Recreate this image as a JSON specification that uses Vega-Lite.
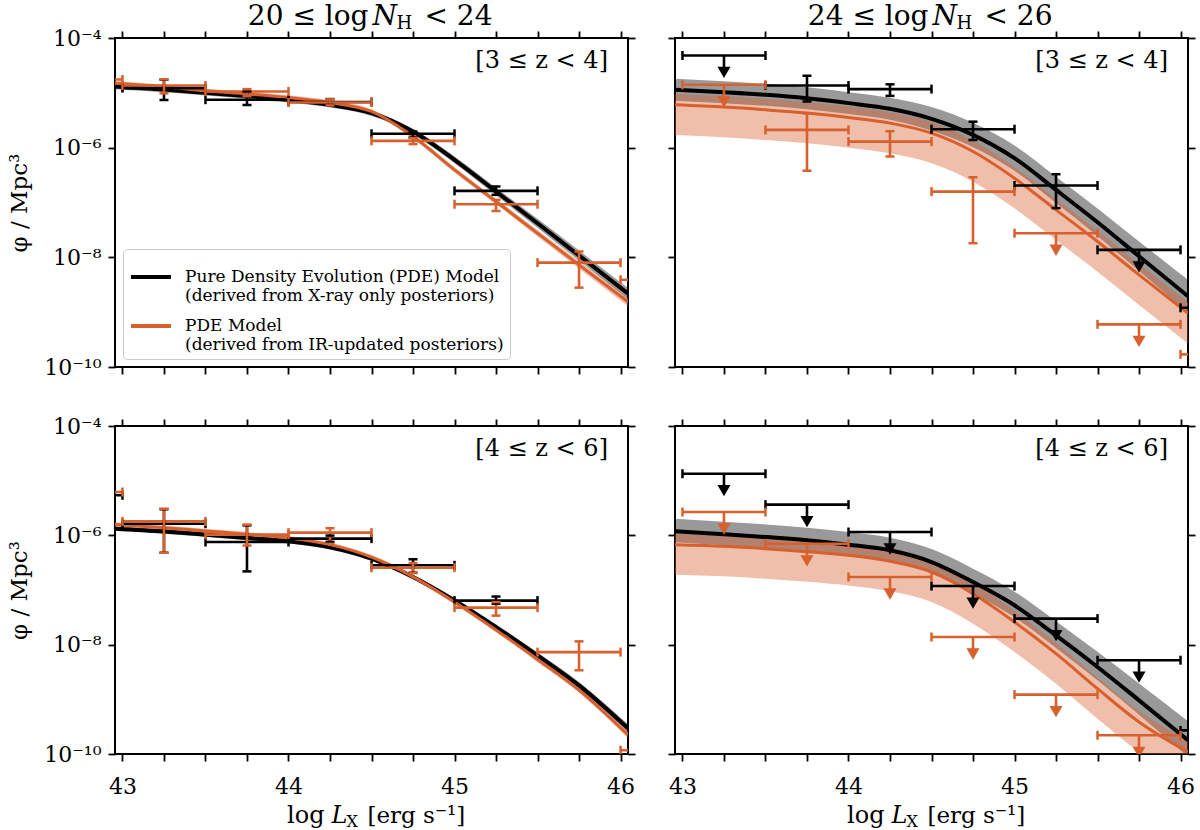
{
  "$schema": "https://vega.github.io/schema/vega-lite/v6.json",
  "background": "white",
  "padding": {"left": 7, "top": 2, "right": 5, "bottom": 0},
  "config": {
    "font": "DejaVu Serif",
    "view": {"stroke": "black", "strokeWidth": 2},
    "axis": {
      "labelFont": "DejaVu Serif", "labelFontSize": 22, "labelColor": "black",
      "tickColor": "black", "tickWidth": 1.8, "tickSize": 7,
      "domain": false, "grid": false,
      "titleFont": "DejaVu Serif", "titleFontSize": 23, "titleFontWeight": "normal", "titleColor": "black",
      "labelFlush": false, "labelOverlap": false
    },
    "text": {"font": "DejaVu Serif", "color": "black"}
  },
  "datasets": {
    "curves": [
      {"p":"TL","s":"X","x":42.955,"y":1.303e-5,"lo":1.161e-5,"hi":1.462e-5},
      {"p":"TL","s":"X","x":43.25,"y":1.148e-5,"lo":1.023e-5,"hi":1.288e-5},
      {"p":"TL","s":"X","x":43.5,"y":1.0e-5,"lo":8.91e-6,"hi":1.122e-5},
      {"p":"TL","s":"X","x":43.75,"y":8.71e-6,"lo":7.76e-6,"hi":9.77e-6},
      {"p":"TL","s":"X","x":44.0,"y":7.46e-6,"lo":6.65e-6,"hi":8.37e-6},
      {"p":"TL","s":"X","x":44.25,"y":6.04e-6,"lo":5.38e-6,"hi":6.78e-6},
      {"p":"TL","s":"X","x":44.5,"y":4.26e-6,"lo":3.79e-6,"hi":4.78e-6},
      {"p":"TL","s":"X","x":44.75,"y":1.97e-6,"lo":1.76e-6,"hi":2.21e-6},
      {"p":"TL","s":"X","x":45.0,"y":6.0e-7,"lo":5.22e-7,"hi":6.89e-7},
      {"p":"TL","s":"X","x":45.25,"y":1.585e-7,"lo":1.349e-7,"hi":1.862e-7},
      {"p":"TL","s":"X","x":45.5,"y":4.19e-8,"lo":3.48e-8,"hi":5.04e-8},
      {"p":"TL","s":"X","x":45.75,"y":1.079e-8,"lo":8.77e-9,"hi":1.327e-8},
      {"p":"TL","s":"X","x":46.045,"y":2.19e-9,"lo":1.74e-9,"hi":2.75e-9},
      {"p":"TL","s":"IR","x":42.955,"y":1.5e-5,"lo":1.368e-5,"hi":1.644e-5},
      {"p":"TL","s":"IR","x":43.25,"y":1.288e-5,"lo":1.175e-5,"hi":1.413e-5},
      {"p":"TL","s":"IR","x":43.5,"y":1.086e-5,"lo":9.91e-6,"hi":1.191e-5},
      {"p":"TL","s":"IR","x":43.75,"y":9.55e-6,"lo":8.71e-6,"hi":1.047e-5},
      {"p":"TL","s":"IR","x":44.0,"y":8.22e-6,"lo":7.5e-6,"hi":9.02e-6},
      {"p":"TL","s":"IR","x":44.25,"y":6.67e-6,"lo":6.08e-6,"hi":7.31e-6},
      {"p":"TL","s":"IR","x":44.5,"y":4.57e-6,"lo":4.17e-6,"hi":5.01e-6},
      {"p":"TL","s":"IR","x":44.75,"y":1.6e-6,"lo":1.459e-6,"hi":1.754e-6},
      {"p":"TL","s":"IR","x":45.0,"y":3.94e-7,"lo":3.52e-7,"hi":4.43e-7},
      {"p":"TL","s":"IR","x":45.25,"y":1.042e-7,"lo":9.29e-8,"hi":1.169e-7},
      {"p":"TL","s":"IR","x":45.5,"y":2.754e-8,"lo":2.4e-8,"hi":3.16e-8},
      {"p":"TL","s":"IR","x":45.75,"y":7.29e-9,"lo":6.21e-9,"hi":8.57e-9},
      {"p":"TL","s":"IR","x":46.045,"y":1.549e-9,"lo":1.288e-9,"hi":1.862e-9},
      {"p":"TR","s":"X","x":42.955,"y":1.135e-5,"lo":7.16e-6,"hi":1.8e-5},
      {"p":"TR","s":"X","x":43.25,"y":1.023e-5,"lo":6.46e-6,"hi":1.622e-5},
      {"p":"TR","s":"X","x":43.5,"y":9.2e-6,"lo":5.81e-6,"hi":1.459e-5},
      {"p":"TR","s":"X","x":43.75,"y":7.94e-6,"lo":5.01e-6,"hi":1.259e-5},
      {"p":"TR","s":"X","x":44.0,"y":6.49e-6,"lo":4.09e-6,"hi":1.028e-5},
      {"p":"TR","s":"X","x":44.25,"y":5.12e-6,"lo":3.23e-6,"hi":8.11e-6},
      {"p":"TR","s":"X","x":44.5,"y":3.36e-6,"lo":2.04e-6,"hi":5.5e-6},
      {"p":"TR","s":"X","x":44.75,"y":1.714e-6,"lo":1.033e-6,"hi":2.84e-6},
      {"p":"TR","s":"X","x":45.0,"y":6.43e-7,"lo":3.78e-7,"hi":1.091e-6},
      {"p":"TR","s":"X","x":45.25,"y":1.698e-7,"lo":9.77e-8,"hi":2.95e-7},
      {"p":"TR","s":"X","x":45.5,"y":4.365e-8,"lo":2.455e-8,"hi":7.76e-8},
      {"p":"TR","s":"X","x":45.75,"y":1.047e-8,"lo":5.62e-9,"hi":1.95e-8},
      {"p":"TR","s":"X","x":46.045,"y":1.95e-9,"lo":9.77e-10,"hi":3.89e-9},
      {"p":"TR","s":"IR","x":42.955,"y":6.04e-6,"lo":1.702e-6,"hi":9.57e-6},
      {"p":"TR","s":"IR","x":43.25,"y":5.5e-6,"lo":1.549e-6,"hi":8.71e-6},
      {"p":"TR","s":"IR","x":43.5,"y":4.9e-6,"lo":1.38e-6,"hi":7.76e-6},
      {"p":"TR","s":"IR","x":43.75,"y":4.27e-6,"lo":1.202e-6,"hi":6.76e-6},
      {"p":"TR","s":"IR","x":44.0,"y":3.55e-6,"lo":1.0e-6,"hi":5.62e-6},
      {"p":"TR","s":"IR","x":44.25,"y":2.8e-6,"lo":7.89e-7,"hi":4.44e-6},
      {"p":"TR","s":"IR","x":44.5,"y":1.837e-6,"lo":5.18e-7,"hi":2.91e-6},
      {"p":"TR","s":"IR","x":44.75,"y":8.51e-7,"lo":2.4e-7,"hi":1.349e-6},
      {"p":"TR","s":"IR","x":45.0,"y":2.77e-7,"lo":7.82e-8,"hi":4.4e-7},
      {"p":"TR","s":"IR","x":45.25,"y":7.35e-8,"lo":2.07e-8,"hi":1.164e-7},
      {"p":"TR","s":"IR","x":45.5,"y":1.945e-8,"lo":5.48e-9,"hi":3.08e-8},
      {"p":"TR","s":"IR","x":45.75,"y":4.8e-9,"lo":1.352e-9,"hi":7.6e-9},
      {"p":"TR","s":"IR","x":46.045,"y":9.55e-10,"lo":2.69e-10,"hi":1.514e-9},
      {"p":"BL","s":"X","x":42.955,"y":1.324e-6,"lo":1.208e-6,"hi":1.452e-6},
      {"p":"BL","s":"X","x":43.25,"y":1.175e-6,"lo":1.072e-6,"hi":1.288e-6},
      {"p":"BL","s":"X","x":43.5,"y":1.028e-6,"lo":9.38e-7,"hi":1.127e-6},
      {"p":"BL","s":"X","x":43.75,"y":8.91e-7,"lo":8.13e-7,"hi":9.77e-7},
      {"p":"BL","s":"X","x":44.0,"y":7.76e-7,"lo":7.08e-7,"hi":8.51e-7},
      {"p":"BL","s":"X","x":44.25,"y":6.03e-7,"lo":5.5e-7,"hi":6.61e-7},
      {"p":"BL","s":"X","x":44.5,"y":3.74e-7,"lo":3.41e-7,"hi":4.1e-7},
      {"p":"BL","s":"X","x":44.75,"y":1.73e-7,"lo":1.578e-7,"hi":1.897e-7},
      {"p":"BL","s":"X","x":45.0,"y":6.46e-8,"lo":5.89e-8,"hi":7.08e-8},
      {"p":"BL","s":"X","x":45.25,"y":2.1e-8,"lo":1.875e-8,"hi":2.36e-8},
      {"p":"BL","s":"X","x":45.5,"y":6.38e-9,"lo":5.69e-9,"hi":7.16e-9},
      {"p":"BL","s":"X","x":45.75,"y":1.803e-9,"lo":1.57e-9,"hi":2.07e-9},
      {"p":"BL","s":"X","x":46.045,"y":2.95e-10,"lo":2.51e-10,"hi":3.47e-10},
      {"p":"BL","s":"IR","x":42.955,"y":1.585e-6,"lo":1.445e-6,"hi":1.738e-6},
      {"p":"BL","s":"IR","x":43.25,"y":1.38e-6,"lo":1.259e-6,"hi":1.514e-6},
      {"p":"BL","s":"IR","x":43.5,"y":1.202e-6,"lo":1.096e-6,"hi":1.318e-6},
      {"p":"BL","s":"IR","x":43.75,"y":1.047e-6,"lo":9.55e-7,"hi":1.148e-6},
      {"p":"BL","s":"IR","x":44.0,"y":8.91e-7,"lo":8.13e-7,"hi":9.77e-7},
      {"p":"BL","s":"IR","x":44.25,"y":6.76e-7,"lo":6.17e-7,"hi":7.41e-7},
      {"p":"BL","s":"IR","x":44.5,"y":3.98e-7,"lo":3.63e-7,"hi":4.37e-7},
      {"p":"BL","s":"IR","x":44.75,"y":1.738e-7,"lo":1.585e-7,"hi":1.905e-7},
      {"p":"BL","s":"IR","x":45.0,"y":6.03e-8,"lo":5.5e-8,"hi":6.61e-8},
      {"p":"BL","s":"IR","x":45.25,"y":1.862e-8,"lo":1.698e-8,"hi":2.04e-8},
      {"p":"BL","s":"IR","x":45.5,"y":5.37e-9,"lo":4.79e-9,"hi":6.03e-9},
      {"p":"BL","s":"IR","x":45.75,"y":1.479e-9,"lo":1.318e-9,"hi":1.66e-9},
      {"p":"BL","s":"IR","x":46.045,"y":2.24e-10,"lo":1.95e-10,"hi":2.57e-10},
      {"p":"BR","s":"X","x":42.955,"y":1.183e-6,"lo":7.46e-7,"hi":2.01e-6},
      {"p":"BR","s":"X","x":43.25,"y":1.047e-6,"lo":6.61e-7,"hi":1.778e-6},
      {"p":"BR","s":"X","x":43.5,"y":9.33e-7,"lo":5.89e-7,"hi":1.585e-6},
      {"p":"BR","s":"X","x":43.75,"y":8.13e-7,"lo":5.13e-7,"hi":1.38e-6},
      {"p":"BR","s":"X","x":44.0,"y":6.75e-7,"lo":4.26e-7,"hi":1.146e-6},
      {"p":"BR","s":"X","x":44.25,"y":5.32e-7,"lo":3.36e-7,"hi":9.04e-7},
      {"p":"BR","s":"X","x":44.5,"y":3.25e-7,"lo":2.0e-7,"hi":5.62e-7},
      {"p":"BR","s":"X","x":44.75,"y":1.4e-7,"lo":8.51e-8,"hi":2.455e-7},
      {"p":"BR","s":"X","x":45.0,"y":5.25e-8,"lo":3.16e-8,"hi":9.33e-8},
      {"p":"BR","s":"X","x":45.25,"y":1.483e-8,"lo":8.71e-9,"hi":2.69e-8},
      {"p":"BR","s":"X","x":45.5,"y":3.91e-9,"lo":2.24e-9,"hi":7.41e-9},
      {"p":"BR","s":"X","x":45.75,"y":9.59e-10,"lo":5.25e-10,"hi":1.95e-9},
      {"p":"BR","s":"X","x":46.045,"y":1.782e-10,"lo":8.9e-11,"hi":3.98e-10},
      {"p":"BR","s":"IR","x":42.955,"y":6.75e-7,"lo":1.901e-7,"hi":1.069e-6},
      {"p":"BR","s":"IR","x":43.25,"y":6.31e-7,"lo":1.778e-7,"hi":1.0e-6},
      {"p":"BR","s":"IR","x":43.5,"y":5.7e-7,"lo":1.607e-7,"hi":9.04e-7},
      {"p":"BR","s":"IR","x":43.75,"y":5.01e-7,"lo":1.413e-7,"hi":7.94e-7},
      {"p":"BR","s":"IR","x":44.0,"y":4.31e-7,"lo":1.213e-7,"hi":6.82e-7},
      {"p":"BR","s":"IR","x":44.25,"y":3.35e-7,"lo":9.44e-8,"hi":5.31e-7},
      {"p":"BR","s":"IR","x":44.5,"y":2.14e-7,"lo":6.03e-8,"hi":3.39e-7},
      {"p":"BR","s":"IR","x":44.75,"y":8.57e-8,"lo":2.415e-8,"hi":1.358e-7},
      {"p":"BR","s":"IR","x":45.0,"y":2.6e-8,"lo":7.33e-9,"hi":4.12e-8},
      {"p":"BR","s":"IR","x":45.25,"y":6.84e-9,"lo":1.928e-9,"hi":1.084e-8},
      {"p":"BR","s":"IR","x":45.5,"y":1.567e-9,"lo":4.42e-10,"hi":2.48e-9},
      {"p":"BR","s":"IR","x":45.75,"y":3.85e-10,"lo":1.086e-10,"hi":6.11e-10},
      {"p":"BR","s":"IR","x":46.045,"y":1.089e-10,"lo":3.09e-11,"hi":1.726e-10}
    ],
    "pts": [
      {"p":"TL","s":"X","x":42.75,"xlo":42.5,"xhi":43.0,"y":1.3e-5,"ylo":null,"yhi":null,"ul":false},
      {"p":"TL","s":"X","x":43.25,"xlo":43.0,"xhi":43.5,"y":1.22e-5,"ylo":7.4e-6,"yhi":1.75e-5,"ul":false},
      {"p":"TL","s":"X","x":43.75,"xlo":43.5,"xhi":44.0,"y":7.5e-6,"ylo":6.0e-6,"yhi":1.06e-5,"ul":false},
      {"p":"TL","s":"X","x":44.25,"xlo":44.0,"xhi":44.5,"y":6.8e-6,"ylo":6.0e-6,"yhi":7.7e-6,"ul":false},
      {"p":"TL","s":"X","x":44.75,"xlo":44.5,"xhi":45.0,"y":1.79e-6,"ylo":1.53e-6,"yhi":1.97e-6,"ul":false},
      {"p":"TL","s":"X","x":45.25,"xlo":45.0,"xhi":45.5,"y":1.63e-7,"ylo":1.38e-7,"yhi":1.96e-7,"ul":false},
      {"p":"TL","s":"IR","x":42.75,"xlo":42.5,"xhi":43.0,"y":1.75e-5,"ylo":null,"yhi":null,"ul":false},
      {"p":"TL","s":"IR","x":43.25,"xlo":43.0,"xhi":43.5,"y":1.36e-5,"ylo":9.8e-6,"yhi":1.77e-5,"ul":false},
      {"p":"TL","s":"IR","x":43.75,"xlo":43.5,"xhi":44.0,"y":1.06e-5,"ylo":8.7e-6,"yhi":1.17e-5,"ul":false},
      {"p":"TL","s":"IR","x":44.25,"xlo":44.0,"xhi":44.5,"y":6.67e-6,"ylo":5.9e-6,"yhi":7.6e-6,"ul":false},
      {"p":"TL","s":"IR","x":44.75,"xlo":44.5,"xhi":45.0,"y":1.33e-6,"ylo":1.16e-6,"yhi":1.49e-6,"ul":false},
      {"p":"TL","s":"IR","x":45.25,"xlo":45.0,"xhi":45.5,"y":9.3e-8,"ylo":7.0e-8,"yhi":1.12e-7,"ul":false},
      {"p":"TL","s":"IR","x":45.75,"xlo":45.5,"xhi":46.0,"y":8.0e-9,"ylo":2.8e-9,"yhi":1.28e-8,"ul":false},
      {"p":"TL","s":"IR","x":46.25,"xlo":46.0,"xhi":46.5,"y":3.9e-9,"ylo":null,"yhi":null,"ul":false},
      {"p":"TR","s":"X","x":43.25,"xlo":43.0,"xhi":43.5,"y":4.8e-5,"ylo":null,"yhi":null,"ul":true},
      {"p":"TR","s":"X","x":43.75,"xlo":43.5,"xhi":44.0,"y":1.36e-5,"ylo":6.95e-6,"yhi":2.04e-5,"ul":false},
      {"p":"TR","s":"X","x":44.25,"xlo":44.0,"xhi":44.5,"y":1.17e-5,"ylo":8.8e-6,"yhi":1.43e-5,"ul":false},
      {"p":"TR","s":"X","x":44.75,"xlo":44.5,"xhi":45.0,"y":2.17e-6,"ylo":1.38e-6,"yhi":2.98e-6,"ul":false},
      {"p":"TR","s":"X","x":45.25,"xlo":45.0,"xhi":45.5,"y":2.04e-7,"ylo":7.9e-8,"yhi":3.28e-7,"ul":false},
      {"p":"TR","s":"X","x":45.75,"xlo":45.5,"xhi":46.0,"y":1.37e-8,"ylo":null,"yhi":null,"ul":true},
      {"p":"TR","s":"X","x":46.25,"xlo":46.0,"xhi":46.5,"y":1.2e-9,"ylo":null,"yhi":null,"ul":false},
      {"p":"TR","s":"IR","x":43.25,"xlo":43.0,"xhi":43.5,"y":1.4e-5,"ylo":null,"yhi":null,"ul":true},
      {"p":"TR","s":"IR","x":43.75,"xlo":43.5,"xhi":44.0,"y":2.11e-6,"ylo":3.78e-7,"yhi":4.26e-6,"ul":false},
      {"p":"TR","s":"IR","x":44.25,"xlo":44.0,"xhi":44.5,"y":1.29e-6,"ylo":6.9e-7,"yhi":2.0e-6,"ul":false},
      {"p":"TR","s":"IR","x":44.75,"xlo":44.5,"xhi":45.0,"y":1.58e-7,"ylo":1.81e-8,"yhi":2.89e-7,"ul":false},
      {"p":"TR","s":"IR","x":45.25,"xlo":45.0,"xhi":45.5,"y":2.75e-8,"ylo":null,"yhi":null,"ul":true},
      {"p":"TR","s":"IR","x":45.75,"xlo":45.5,"xhi":46.0,"y":6.0e-10,"ylo":null,"yhi":null,"ul":true},
      {"p":"TR","s":"IR","x":46.25,"xlo":46.0,"xhi":46.5,"y":1.7e-10,"ylo":null,"yhi":null,"ul":false},
      {"p":"BL","s":"X","x":42.75,"xlo":42.5,"xhi":43.0,"y":5.4e-6,"ylo":null,"yhi":null,"ul":false},
      {"p":"BL","s":"X","x":43.25,"xlo":43.0,"xhi":43.5,"y":1.63e-6,"ylo":4.8e-7,"yhi":3.0e-6,"ul":false},
      {"p":"BL","s":"X","x":43.75,"xlo":43.5,"xhi":44.0,"y":7.55e-7,"ylo":2.19e-7,"yhi":1.52e-6,"ul":false},
      {"p":"BL","s":"X","x":44.25,"xlo":44.0,"xhi":44.5,"y":8.7e-7,"ylo":7.6e-7,"yhi":9.9e-7,"ul":false},
      {"p":"BL","s":"X","x":44.75,"xlo":44.5,"xhi":45.0,"y":2.83e-7,"ylo":2.07e-7,"yhi":3.65e-7,"ul":false},
      {"p":"BL","s":"X","x":45.25,"xlo":45.0,"xhi":45.5,"y":6.4e-8,"ylo":5.6e-8,"yhi":7.6e-8,"ul":false},
      {"p":"BL","s":"IR","x":42.75,"xlo":42.5,"xhi":43.0,"y":6.2e-6,"ylo":null,"yhi":null,"ul":false},
      {"p":"BL","s":"IR","x":43.25,"xlo":43.0,"xhi":43.5,"y":1.8e-6,"ylo":4.8e-7,"yhi":3.07e-6,"ul":false},
      {"p":"BL","s":"IR","x":43.75,"xlo":43.5,"xhi":44.0,"y":1.03e-6,"ylo":6.5e-7,"yhi":1.57e-6,"ul":false},
      {"p":"BL","s":"IR","x":44.25,"xlo":44.0,"xhi":44.5,"y":1.12e-6,"ylo":7.0e-7,"yhi":1.35e-6,"ul":false},
      {"p":"BL","s":"IR","x":44.75,"xlo":44.5,"xhi":45.0,"y":2.56e-7,"ylo":2.04e-7,"yhi":3.1e-7,"ul":false},
      {"p":"BL","s":"IR","x":45.25,"xlo":45.0,"xhi":45.5,"y":4.75e-8,"ylo":3.4e-8,"yhi":6.0e-8,"ul":false},
      {"p":"BL","s":"IR","x":45.75,"xlo":45.5,"xhi":46.0,"y":7.3e-9,"ylo":3.4e-9,"yhi":1.15e-8,"ul":false},
      {"p":"BL","s":"IR","x":46.25,"xlo":46.0,"xhi":46.5,"y":1.17e-10,"ylo":null,"yhi":null,"ul":false},
      {"p":"BR","s":"X","x":43.25,"xlo":43.0,"xhi":43.5,"y":1.34e-5,"ylo":null,"yhi":null,"ul":true},
      {"p":"BR","s":"X","x":43.75,"xlo":43.5,"xhi":44.0,"y":3.64e-6,"ylo":null,"yhi":null,"ul":true},
      {"p":"BR","s":"X","x":44.25,"xlo":44.0,"xhi":44.5,"y":1.15e-6,"ylo":null,"yhi":null,"ul":true},
      {"p":"BR","s":"X","x":44.75,"xlo":44.5,"xhi":45.0,"y":1.18e-7,"ylo":null,"yhi":null,"ul":true},
      {"p":"BR","s":"X","x":45.25,"xlo":45.0,"xhi":45.5,"y":3.0e-8,"ylo":null,"yhi":null,"ul":true},
      {"p":"BR","s":"X","x":45.75,"xlo":45.5,"xhi":46.0,"y":5.2e-9,"ylo":null,"yhi":null,"ul":true},
      {"p":"BR","s":"X","x":46.25,"xlo":46.0,"xhi":46.5,"y":2.7e-10,"ylo":null,"yhi":null,"ul":true},
      {"p":"BR","s":"IR","x":43.25,"xlo":43.0,"xhi":43.5,"y":2.67e-6,"ylo":null,"yhi":null,"ul":true},
      {"p":"BR","s":"IR","x":43.75,"xlo":43.5,"xhi":44.0,"y":7.0e-7,"ylo":null,"yhi":null,"ul":true},
      {"p":"BR","s":"IR","x":44.25,"xlo":44.0,"xhi":44.5,"y":1.73e-7,"ylo":null,"yhi":null,"ul":true},
      {"p":"BR","s":"IR","x":44.75,"xlo":44.5,"xhi":45.0,"y":1.38e-8,"ylo":null,"yhi":null,"ul":true},
      {"p":"BR","s":"IR","x":45.25,"xlo":45.0,"xhi":45.5,"y":1.22e-9,"ylo":null,"yhi":null,"ul":true},
      {"p":"BR","s":"IR","x":45.75,"xlo":45.5,"xhi":46.0,"y":2.2e-10,"ylo":null,"yhi":null,"ul":true}
    ],
    "notes": [
      {"p":"TL","z":"[3 ≤ z < 4]","h1":"20 ≤ log","h2":"< 24"},
      {"p":"TR","z":"[3 ≤ z < 4]","h1":"24 ≤ log","h2":"< 26"},
      {"p":"BL","z":"[4 ≤ z < 6]"},
      {"p":"BR","z":"[4 ≤ z < 6]"}
    ]
  },
  "spacing": 35,
  "resolve": {"legend": {"color": "independent"}},
  "vconcat": [
    {
      "spacing": 29,
      "resolve": {"legend": {"color": "independent"}},
      "hconcat": [
        {
          "width": 513, "height": 329,
          "layer": [
            {"data": {"name": "curves"}, "transform": [{"filter": "datum.p === 'TL'"}],
             "mark": {"type": "area", "fillOpacity": 0.4, "interpolate": "monotone", "clip": true},
             "encoding": {
               "x": {"field": "x", "type": "quantitative", "scale": {"domain": [42.955, 46.045], "nice": false, "zero": false}, "axis": null},
               "y": {"field": "lo", "type": "quantitative", "scale": {"type": "log", "domain": [1e-10, 1e-4]}, "axis": null},
               "y2": {"field": "hi"},
               "color": {"field": "s", "type": "nominal", "scale": {"domain": ["X", "IR"], "range": ["#000000", "#d7602e"]}}}},
            {"data": {"name": "curves"}, "transform": [{"filter": "datum.p === 'TL'"}],
             "mark": {"type": "line", "interpolate": "monotone", "clip": true},
             "encoding": {
               "x": {"field": "x", "type": "quantitative", "scale": {"domain": [42.955, 46.045], "nice": false, "zero": false}, "axis": null},
               "y": {"field": "y", "type": "quantitative", "scale": {"type": "log", "domain": [1e-10, 1e-4]}, "axis": null},
               "color": {"field": "s", "type": "nominal", "scale": {"domain": ["X", "IR"], "range": ["#000000", "#d7602e"]},
                 "legend": {"title": null, "orient": "bottom-left", "offset": 8, "padding": 6,
                   "fillColor": "rgba(255,255,255,0.85)", "strokeColor": "#cccccc", "cornerRadius": 4,
                   "symbolType": "stroke", "symbolSize": 1600, "symbolStrokeWidth": 4, "symbolOpacity": 1,
                   "labelFont": "DejaVu Serif", "labelFontSize": 17, "labelColor": "black", "labelOffset": 12, "labelLimit": 600,
                   "rowPadding": -5,
                   "labelExpr": "datum.value === 'X' ? ['Pure Density Evolution (PDE) Model', '\u00a0(derived from X-ray only posteriors)'] : ['PDE Model', '\u00a0(derived from IR-updated posteriors)']"}},
               "strokeWidth": {"field": "s", "type": "nominal", "scale": {"domain": ["X", "IR"], "range": [4, 3]}, "legend": null}}},
            {"data": {"name": "pts"}, "transform": [{"filter": "datum.p === 'TL'"}],
             "mark": {"type": "rule", "strokeWidth": 2.6, "clip": true},
             "encoding": {
               "x": {"field": "xlo", "type": "quantitative", "scale": {"domain": [42.955, 46.045], "nice": false, "zero": false}, "axis": null},
               "x2": {"field": "xhi"},
               "y": {"field": "y", "type": "quantitative", "scale": {"type": "log", "domain": [1e-10, 1e-4]}, "axis": null},
               "color": {"field": "s", "type": "nominal", "scale": {"domain": ["X", "IR"], "range": ["#000000", "#d7602e"]}}}},
            {"data": {"name": "pts"}, "transform": [{"filter": "datum.p === 'TL'"}, {"fold": ["xlo", "xhi"], "as": ["k", "xc"]}],
             "mark": {"type": "tick", "orient": "vertical", "size": 9, "thickness": 2.5, "opacity": 1, "clip": true},
             "encoding": {
               "x": {"field": "xc", "type": "quantitative", "scale": {"domain": [42.955, 46.045], "nice": false, "zero": false}, "axis": null},
               "y": {"field": "y", "type": "quantitative", "scale": {"type": "log", "domain": [1e-10, 1e-4]}, "axis": null},
               "color": {"field": "s", "type": "nominal", "scale": {"domain": ["X", "IR"], "range": ["#000000", "#d7602e"]}}}},
            {"data": {"name": "pts"}, "transform": [{"filter": "datum.p === 'TL' && isValid(datum.ylo)"}],
             "mark": {"type": "rule", "strokeWidth": 2.6, "clip": true},
             "encoding": {
               "x": {"field": "x", "type": "quantitative", "scale": {"domain": [42.955, 46.045], "nice": false, "zero": false}, "axis": null},
               "y": {"field": "ylo", "type": "quantitative", "scale": {"type": "log", "domain": [1e-10, 1e-4]}, "axis": null},
               "y2": {"field": "yhi"},
               "color": {"field": "s", "type": "nominal", "scale": {"domain": ["X", "IR"], "range": ["#000000", "#d7602e"]}}}},
            {"data": {"name": "pts"}, "transform": [{"filter": "datum.p === 'TL' && isValid(datum.ylo)"}, {"fold": ["ylo", "yhi"], "as": ["k", "yc"]}],
             "mark": {"type": "tick", "orient": "horizontal", "size": 9, "thickness": 2.5, "opacity": 1, "clip": true},
             "encoding": {
               "x": {"field": "x", "type": "quantitative", "scale": {"domain": [42.955, 46.045], "nice": false, "zero": false}, "axis": null},
               "y": {"field": "yc", "type": "quantitative", "scale": {"type": "log", "domain": [1e-10, 1e-4]}, "axis": null},
               "color": {"field": "s", "type": "nominal", "scale": {"domain": ["X", "IR"], "range": ["#000000", "#d7602e"]}}}},
            {"data": {"name": "notes"}, "transform": [{"filter": "datum.p === 'TL'"}],
             "mark": {"type": "text", "align": "right", "baseline": "alphabetic", "fontSize": 24, "dx": -20},
             "encoding": {
               "x": {"datum": 46.045, "type": "quantitative", "scale": {"domain": [42.955, 46.045], "nice": false, "zero": false}, "axis": null},
               "y": {"datum": 2.8e-5, "type": "quantitative", "scale": {"type": "log", "domain": [1e-10, 1e-4]}, "axis": null},
               "text": {"field": "z"}}},
            {"data": {"name": "notes"}, "transform": [{"filter": "datum.p === 'TL'"}],
             "mark": {"type": "text", "align": "right", "baseline": "alphabetic", "fontSize": 28, "dx": -3},
             "encoding": {
               "x": {"datum": 44.5, "type": "quantitative", "scale": {"domain": [42.955, 46.045], "nice": false, "zero": false}, "axis": null},
               "y": {"datum": 1.7e-4, "type": "quantitative", "scale": {"type": "log", "domain": [1e-10, 1e-4]}, "axis": null},
               "text": {"field": "h1"}}},
            {"data": {"name": "notes"}, "transform": [{"filter": "datum.p === 'TL'"}],
             "mark": {"type": "text", "align": "left", "baseline": "alphabetic", "fontSize": 28, "fontStyle": "italic", "dx": 1},
             "encoding": {
               "x": {"datum": 44.5, "type": "quantitative", "scale": {"domain": [42.955, 46.045], "nice": false, "zero": false}, "axis": null},
               "y": {"datum": 1.7e-4, "type": "quantitative", "scale": {"type": "log", "domain": [1e-10, 1e-4]}, "axis": null},
               "text": {"value": "N"}}},
            {"data": {"name": "notes"}, "transform": [{"filter": "datum.p === 'TL'"}],
             "mark": {"type": "text", "align": "left", "baseline": "alphabetic", "fontSize": 18, "dx": 25, "dy": 4},
             "encoding": {
               "x": {"datum": 44.5, "type": "quantitative", "scale": {"domain": [42.955, 46.045], "nice": false, "zero": false}, "axis": null},
               "y": {"datum": 1.7e-4, "type": "quantitative", "scale": {"type": "log", "domain": [1e-10, 1e-4]}, "axis": null},
               "text": {"value": "H"}}},
            {"data": {"name": "notes"}, "transform": [{"filter": "datum.p === 'TL'"}],
             "mark": {"type": "text", "align": "left", "baseline": "alphabetic", "fontSize": 28, "dx": 53},
             "encoding": {
               "x": {"datum": 44.5, "type": "quantitative", "scale": {"domain": [42.955, 46.045], "nice": false, "zero": false}, "axis": null},
               "y": {"datum": 1.7e-4, "type": "quantitative", "scale": {"type": "log", "domain": [1e-10, 1e-4]}, "axis": null},
               "text": {"field": "h2"}}},
            {"data": {"name": "notes"}, "transform": [{"filter": "datum.p === 'TL'"}],
             "mark": {"type": "point", "opacity": 0},
             "encoding": {
               "x": {"datum": 44.5, "type": "quantitative", "scale": {"domain": [42.955, 46.045], "nice": false, "zero": false},
                 "axis": {"orient": "bottom", "values": [43, 43.25, 43.5, 43.75, 44, 44.25, 44.5, 44.75, 45, 45.25, 45.5, 45.75, 46], "labels": false, "title": null,
                   "encode": {"ticks": {"y": {"condition": {"test": "datum.value % 1 === 0", "value": -7}, "value": -4}, "y2": {"condition": {"test": "datum.value % 1 === 0", "value": 7}, "value": 0}}}}},
               "y": {"datum": 1e-6, "type": "quantitative", "scale": {"type": "log", "domain": [1e-10, 1e-4]},
                 "axis": {"orient": "left", "values": [1e-10, 1e-8, 1e-6, 1e-4], "labelPadding": 7, "title": "φ / Mpc³", "titlePadding": 12,
                   "labelExpr": "datum.value > 5e-5 ? '10⁻⁴' : datum.value > 5e-7 ? '10⁻⁶' : datum.value > 5e-9 ? '10⁻⁸' : '10⁻¹⁰'",
                   "encode": {"ticks": {"x": {"value": 7}, "x2": {"value": -7}}}}}}},
            {"data": {"name": "notes"}, "transform": [{"filter": "datum.p === 'TL'"}],
             "mark": {"type": "point", "opacity": 0},
             "encoding": {
               "x": {"datum": 44.5, "type": "quantitative", "scale": {"domain": [42.955, 46.045], "nice": false, "zero": false},
                 "axis": {"orient": "top", "values": [43, 43.25, 43.5, 43.75, 44, 44.25, 44.5, 44.75, 45, 45.25, 45.5, 45.75, 46], "labels": false, "title": null,
                   "encode": {"ticks": {"y": {"condition": {"test": "datum.value % 1 === 0", "value": 7}, "value": 4}, "y2": {"condition": {"test": "datum.value % 1 === 0", "value": -7}, "value": 0}}}}},
               "y": {"datum": 1e-6, "type": "quantitative", "scale": {"type": "log", "domain": [1e-10, 1e-4]},
                 "axis": {"orient": "right", "values": [1e-10, 1e-8, 1e-6, 1e-4], "labels": false, "title": null,
                   "encode": {"ticks": {"x": {"value": -7}, "x2": {"value": 7}}}}}}}
          ],
          "resolve": {"axis": {"x": "independent", "y": "independent"}}
        },
        {
          "width": 513, "height": 329,
          "layer": [
            {"data": {"name": "curves"}, "transform": [{"filter": "datum.p === 'TR'"}],
             "mark": {"type": "area", "fillOpacity": 0.4, "interpolate": "monotone", "clip": true},
             "encoding": {
               "x": {"field": "x", "type": "quantitative", "scale": {"domain": [42.955, 46.045], "nice": false, "zero": false}, "axis": null},
               "y": {"field": "lo", "type": "quantitative", "scale": {"type": "log", "domain": [1e-10, 1e-4]}, "axis": null},
               "y2": {"field": "hi"},
               "color": {"field": "s", "type": "nominal", "scale": {"domain": ["X", "IR"], "range": ["#000000", "#d7602e"]}, "legend": null}}},
            {"data": {"name": "curves"}, "transform": [{"filter": "datum.p === 'TR'"}],
             "mark": {"type": "line", "interpolate": "monotone", "clip": true},
             "encoding": {
               "x": {"field": "x", "type": "quantitative", "scale": {"domain": [42.955, 46.045], "nice": false, "zero": false}, "axis": null},
               "y": {"field": "y", "type": "quantitative", "scale": {"type": "log", "domain": [1e-10, 1e-4]}, "axis": null},
               "color": {"field": "s", "type": "nominal", "scale": {"domain": ["X", "IR"], "range": ["#000000", "#d7602e"]}, "legend": null},
               "strokeWidth": {"field": "s", "type": "nominal", "scale": {"domain": ["X", "IR"], "range": [4, 3]}, "legend": null}}},
            {"data": {"name": "pts"}, "transform": [{"filter": "datum.p === 'TR'"}],
             "mark": {"type": "rule", "strokeWidth": 2.6, "clip": true},
             "encoding": {
               "x": {"field": "xlo", "type": "quantitative", "scale": {"domain": [42.955, 46.045], "nice": false, "zero": false}, "axis": null},
               "x2": {"field": "xhi"},
               "y": {"field": "y", "type": "quantitative", "scale": {"type": "log", "domain": [1e-10, 1e-4]}, "axis": null},
               "color": {"field": "s", "type": "nominal", "scale": {"domain": ["X", "IR"], "range": ["#000000", "#d7602e"]}, "legend": null}}},
            {"data": {"name": "pts"}, "transform": [{"filter": "datum.p === 'TR'"}, {"fold": ["xlo", "xhi"], "as": ["k", "xc"]}],
             "mark": {"type": "tick", "orient": "vertical", "size": 9, "thickness": 2.5, "opacity": 1, "clip": true},
             "encoding": {
               "x": {"field": "xc", "type": "quantitative", "scale": {"domain": [42.955, 46.045], "nice": false, "zero": false}, "axis": null},
               "y": {"field": "y", "type": "quantitative", "scale": {"type": "log", "domain": [1e-10, 1e-4]}, "axis": null},
               "color": {"field": "s", "type": "nominal", "scale": {"domain": ["X", "IR"], "range": ["#000000", "#d7602e"]}, "legend": null}}},
            {"data": {"name": "pts"}, "transform": [{"filter": "datum.p === 'TR' && isValid(datum.ylo)"}],
             "mark": {"type": "rule", "strokeWidth": 2.6, "clip": true},
             "encoding": {
               "x": {"field": "x", "type": "quantitative", "scale": {"domain": [42.955, 46.045], "nice": false, "zero": false}, "axis": null},
               "y": {"field": "ylo", "type": "quantitative", "scale": {"type": "log", "domain": [1e-10, 1e-4]}, "axis": null},
               "y2": {"field": "yhi"},
               "color": {"field": "s", "type": "nominal", "scale": {"domain": ["X", "IR"], "range": ["#000000", "#d7602e"]}, "legend": null}}},
            {"data": {"name": "pts"}, "transform": [{"filter": "datum.p === 'TR' && isValid(datum.ylo)"}, {"fold": ["ylo", "yhi"], "as": ["k", "yc"]}],
             "mark": {"type": "tick", "orient": "horizontal", "size": 9, "thickness": 2.5, "opacity": 1, "clip": true},
             "encoding": {
               "x": {"field": "x", "type": "quantitative", "scale": {"domain": [42.955, 46.045], "nice": false, "zero": false}, "axis": null},
               "y": {"field": "yc", "type": "quantitative", "scale": {"type": "log", "domain": [1e-10, 1e-4]}, "axis": null},
               "color": {"field": "s", "type": "nominal", "scale": {"domain": ["X", "IR"], "range": ["#000000", "#d7602e"]}, "legend": null}}},
            {"data": {"name": "pts"}, "transform": [{"filter": "datum.p === 'TR' && datum.ul"}],
             "mark": {"type": "rule", "strokeWidth": 2.6, "y2Offset": 12, "clip": true},
             "encoding": {
               "x": {"field": "x", "type": "quantitative", "scale": {"domain": [42.955, 46.045], "nice": false, "zero": false}, "axis": null},
               "y": {"field": "y", "type": "quantitative", "scale": {"type": "log", "domain": [1e-10, 1e-4]}, "axis": null},
               "y2": {"field": "y"},
               "color": {"field": "s", "type": "nominal", "scale": {"domain": ["X", "IR"], "range": ["#000000", "#d7602e"]}, "legend": null}}},
            {"data": {"name": "pts"}, "transform": [{"filter": "datum.p === 'TR' && datum.ul"}],
             "mark": {"type": "point", "shape": "triangle-down", "filled": true, "size": 170, "yOffset": 17, "opacity": 1, "clip": true},
             "encoding": {
               "x": {"field": "x", "type": "quantitative", "scale": {"domain": [42.955, 46.045], "nice": false, "zero": false}, "axis": null},
               "y": {"field": "y", "type": "quantitative", "scale": {"type": "log", "domain": [1e-10, 1e-4]}, "axis": null},
               "color": {"field": "s", "type": "nominal", "scale": {"domain": ["X", "IR"], "range": ["#000000", "#d7602e"]}, "legend": null}}},
            {"data": {"name": "notes"}, "transform": [{"filter": "datum.p === 'TR'"}],
             "mark": {"type": "text", "align": "right", "baseline": "alphabetic", "fontSize": 24, "dx": -20},
             "encoding": {
               "x": {"datum": 46.045, "type": "quantitative", "scale": {"domain": [42.955, 46.045], "nice": false, "zero": false}, "axis": null},
               "y": {"datum": 2.8e-5, "type": "quantitative", "scale": {"type": "log", "domain": [1e-10, 1e-4]}, "axis": null},
               "text": {"field": "z"}}},
            {"data": {"name": "notes"}, "transform": [{"filter": "datum.p === 'TR'"}],
             "mark": {"type": "text", "align": "right", "baseline": "alphabetic", "fontSize": 28, "dx": -3},
             "encoding": {
               "x": {"datum": 44.5, "type": "quantitative", "scale": {"domain": [42.955, 46.045], "nice": false, "zero": false}, "axis": null},
               "y": {"datum": 1.7e-4, "type": "quantitative", "scale": {"type": "log", "domain": [1e-10, 1e-4]}, "axis": null},
               "text": {"field": "h1"}}},
            {"data": {"name": "notes"}, "transform": [{"filter": "datum.p === 'TR'"}],
             "mark": {"type": "text", "align": "left", "baseline": "alphabetic", "fontSize": 28, "fontStyle": "italic", "dx": 1},
             "encoding": {
               "x": {"datum": 44.5, "type": "quantitative", "scale": {"domain": [42.955, 46.045], "nice": false, "zero": false}, "axis": null},
               "y": {"datum": 1.7e-4, "type": "quantitative", "scale": {"type": "log", "domain": [1e-10, 1e-4]}, "axis": null},
               "text": {"value": "N"}}},
            {"data": {"name": "notes"}, "transform": [{"filter": "datum.p === 'TR'"}],
             "mark": {"type": "text", "align": "left", "baseline": "alphabetic", "fontSize": 18, "dx": 25, "dy": 4},
             "encoding": {
               "x": {"datum": 44.5, "type": "quantitative", "scale": {"domain": [42.955, 46.045], "nice": false, "zero": false}, "axis": null},
               "y": {"datum": 1.7e-4, "type": "quantitative", "scale": {"type": "log", "domain": [1e-10, 1e-4]}, "axis": null},
               "text": {"value": "H"}}},
            {"data": {"name": "notes"}, "transform": [{"filter": "datum.p === 'TR'"}],
             "mark": {"type": "text", "align": "left", "baseline": "alphabetic", "fontSize": 28, "dx": 53},
             "encoding": {
               "x": {"datum": 44.5, "type": "quantitative", "scale": {"domain": [42.955, 46.045], "nice": false, "zero": false}, "axis": null},
               "y": {"datum": 1.7e-4, "type": "quantitative", "scale": {"type": "log", "domain": [1e-10, 1e-4]}, "axis": null},
               "text": {"field": "h2"}}},
            {"data": {"name": "notes"}, "transform": [{"filter": "datum.p === 'TR'"}],
             "mark": {"type": "point", "opacity": 0},
             "encoding": {
               "x": {"datum": 44.5, "type": "quantitative", "scale": {"domain": [42.955, 46.045], "nice": false, "zero": false},
                 "axis": {"orient": "bottom", "values": [43, 43.25, 43.5, 43.75, 44, 44.25, 44.5, 44.75, 45, 45.25, 45.5, 45.75, 46], "labels": false, "title": null,
                   "encode": {"ticks": {"y": {"condition": {"test": "datum.value % 1 === 0", "value": -7}, "value": -4}, "y2": {"condition": {"test": "datum.value % 1 === 0", "value": 7}, "value": 0}}}}},
               "y": {"datum": 1e-6, "type": "quantitative", "scale": {"type": "log", "domain": [1e-10, 1e-4]},
                 "axis": {"orient": "left", "values": [1e-10, 1e-8, 1e-6, 1e-4], "labels": false, "title": null,
                   "encode": {"ticks": {"x": {"value": 7}, "x2": {"value": -7}}}}}}},
            {"data": {"name": "notes"}, "transform": [{"filter": "datum.p === 'TR'"}],
             "mark": {"type": "point", "opacity": 0},
             "encoding": {
               "x": {"datum": 44.5, "type": "quantitative", "scale": {"domain": [42.955, 46.045], "nice": false, "zero": false},
                 "axis": {"orient": "top", "values": [43, 43.25, 43.5, 43.75, 44, 44.25, 44.5, 44.75, 45, 45.25, 45.5, 45.75, 46], "labels": false, "title": null,
                   "encode": {"ticks": {"y": {"condition": {"test": "datum.value % 1 === 0", "value": 7}, "value": 4}, "y2": {"condition": {"test": "datum.value % 1 === 0", "value": -7}, "value": 0}}}}},
               "y": {"datum": 1e-6, "type": "quantitative", "scale": {"type": "log", "domain": [1e-10, 1e-4]},
                 "axis": {"orient": "right", "values": [1e-10, 1e-8, 1e-6, 1e-4], "labels": false, "title": null,
                   "encode": {"ticks": {"x": {"value": -7}, "x2": {"value": 7}}}}}}}
          ],
          "resolve": {"axis": {"x": "independent", "y": "independent"}}
        }
      ]
    },
    {
      "spacing": 29,
      "resolve": {"legend": {"color": "independent"}},
      "hconcat": [
        {
          "width": 513, "height": 328,
          "layer": [
            {"data": {"name": "curves"}, "transform": [{"filter": "datum.p === 'BL'"}],
             "mark": {"type": "area", "fillOpacity": 0.4, "interpolate": "monotone", "clip": true},
             "encoding": {
               "x": {"field": "x", "type": "quantitative", "scale": {"domain": [42.955, 46.045], "nice": false, "zero": false}, "axis": null},
               "y": {"field": "lo", "type": "quantitative", "scale": {"type": "log", "domain": [1e-10, 1e-4]}, "axis": null},
               "y2": {"field": "hi"},
               "color": {"field": "s", "type": "nominal", "scale": {"domain": ["X", "IR"], "range": ["#000000", "#d7602e"]}, "legend": null}}},
            {"data": {"name": "curves"}, "transform": [{"filter": "datum.p === 'BL'"}],
             "mark": {"type": "line", "interpolate": "monotone", "clip": true},
             "encoding": {
               "x": {"field": "x", "type": "quantitative", "scale": {"domain": [42.955, 46.045], "nice": false, "zero": false}, "axis": null},
               "y": {"field": "y", "type": "quantitative", "scale": {"type": "log", "domain": [1e-10, 1e-4]}, "axis": null},
               "color": {"field": "s", "type": "nominal", "scale": {"domain": ["X", "IR"], "range": ["#000000", "#d7602e"]}, "legend": null},
               "strokeWidth": {"field": "s", "type": "nominal", "scale": {"domain": ["X", "IR"], "range": [4, 3]}, "legend": null}}},
            {"data": {"name": "pts"}, "transform": [{"filter": "datum.p === 'BL'"}],
             "mark": {"type": "rule", "strokeWidth": 2.6, "clip": true},
             "encoding": {
               "x": {"field": "xlo", "type": "quantitative", "scale": {"domain": [42.955, 46.045], "nice": false, "zero": false}, "axis": null},
               "x2": {"field": "xhi"},
               "y": {"field": "y", "type": "quantitative", "scale": {"type": "log", "domain": [1e-10, 1e-4]}, "axis": null},
               "color": {"field": "s", "type": "nominal", "scale": {"domain": ["X", "IR"], "range": ["#000000", "#d7602e"]}, "legend": null}}},
            {"data": {"name": "pts"}, "transform": [{"filter": "datum.p === 'BL'"}, {"fold": ["xlo", "xhi"], "as": ["k", "xc"]}],
             "mark": {"type": "tick", "orient": "vertical", "size": 9, "thickness": 2.5, "opacity": 1, "clip": true},
             "encoding": {
               "x": {"field": "xc", "type": "quantitative", "scale": {"domain": [42.955, 46.045], "nice": false, "zero": false}, "axis": null},
               "y": {"field": "y", "type": "quantitative", "scale": {"type": "log", "domain": [1e-10, 1e-4]}, "axis": null},
               "color": {"field": "s", "type": "nominal", "scale": {"domain": ["X", "IR"], "range": ["#000000", "#d7602e"]}, "legend": null}}},
            {"data": {"name": "pts"}, "transform": [{"filter": "datum.p === 'BL' && isValid(datum.ylo)"}],
             "mark": {"type": "rule", "strokeWidth": 2.6, "clip": true},
             "encoding": {
               "x": {"field": "x", "type": "quantitative", "scale": {"domain": [42.955, 46.045], "nice": false, "zero": false}, "axis": null},
               "y": {"field": "ylo", "type": "quantitative", "scale": {"type": "log", "domain": [1e-10, 1e-4]}, "axis": null},
               "y2": {"field": "yhi"},
               "color": {"field": "s", "type": "nominal", "scale": {"domain": ["X", "IR"], "range": ["#000000", "#d7602e"]}, "legend": null}}},
            {"data": {"name": "pts"}, "transform": [{"filter": "datum.p === 'BL' && isValid(datum.ylo)"}, {"fold": ["ylo", "yhi"], "as": ["k", "yc"]}],
             "mark": {"type": "tick", "orient": "horizontal", "size": 9, "thickness": 2.5, "opacity": 1, "clip": true},
             "encoding": {
               "x": {"field": "x", "type": "quantitative", "scale": {"domain": [42.955, 46.045], "nice": false, "zero": false}, "axis": null},
               "y": {"field": "yc", "type": "quantitative", "scale": {"type": "log", "domain": [1e-10, 1e-4]}, "axis": null},
               "color": {"field": "s", "type": "nominal", "scale": {"domain": ["X", "IR"], "range": ["#000000", "#d7602e"]}, "legend": null}}},
            {"data": {"name": "notes"}, "transform": [{"filter": "datum.p === 'BL'"}],
             "mark": {"type": "text", "align": "right", "baseline": "alphabetic", "fontSize": 24, "dx": -20},
             "encoding": {
               "x": {"datum": 46.045, "type": "quantitative", "scale": {"domain": [42.955, 46.045], "nice": false, "zero": false}, "axis": null},
               "y": {"datum": 2.8e-5, "type": "quantitative", "scale": {"type": "log", "domain": [1e-10, 1e-4]}, "axis": null},
               "text": {"field": "z"}}},
            {"data": {"name": "notes"}, "transform": [{"filter": "datum.p === 'BL'"}],
             "mark": {"type": "text", "align": "right", "baseline": "alphabetic", "fontSize": 24, "dx": -47},
             "encoding": {
               "x": {"datum": 44.5, "type": "quantitative", "scale": {"domain": [42.955, 46.045], "nice": false, "zero": false}, "axis": null},
               "y": {"datum": 5.5e-12, "type": "quantitative", "scale": {"type": "log", "domain": [1e-10, 1e-4]}, "axis": null},
               "text": {"value": "log"}}},
            {"data": {"name": "notes"}, "transform": [{"filter": "datum.p === 'BL'"}],
             "mark": {"type": "text", "align": "left", "baseline": "alphabetic", "fontSize": 24, "fontStyle": "italic", "dx": -40},
             "encoding": {
               "x": {"datum": 44.5, "type": "quantitative", "scale": {"domain": [42.955, 46.045], "nice": false, "zero": false}, "axis": null},
               "y": {"datum": 5.5e-12, "type": "quantitative", "scale": {"type": "log", "domain": [1e-10, 1e-4]}, "axis": null},
               "text": {"value": "L"}}},
            {"data": {"name": "notes"}, "transform": [{"filter": "datum.p === 'BL'"}],
             "mark": {"type": "text", "align": "left", "baseline": "alphabetic", "fontSize": 16, "dx": -25, "dy": 4},
             "encoding": {
               "x": {"datum": 44.5, "type": "quantitative", "scale": {"domain": [42.955, 46.045], "nice": false, "zero": false}, "axis": null},
               "y": {"datum": 5.5e-12, "type": "quantitative", "scale": {"type": "log", "domain": [1e-10, 1e-4]}, "axis": null},
               "text": {"value": "X"}}},
            {"data": {"name": "notes"}, "transform": [{"filter": "datum.p === 'BL'"}],
             "mark": {"type": "text", "align": "left", "baseline": "alphabetic", "fontSize": 23, "dx": -4},
             "encoding": {
               "x": {"datum": 44.5, "type": "quantitative", "scale": {"domain": [42.955, 46.045], "nice": false, "zero": false}, "axis": null},
               "y": {"datum": 5.5e-12, "type": "quantitative", "scale": {"type": "log", "domain": [1e-10, 1e-4]}, "axis": null},
               "text": {"value": "[erg s⁻¹]"}}},
            {"data": {"name": "notes"}, "transform": [{"filter": "datum.p === 'BL'"}],
             "mark": {"type": "point", "opacity": 0},
             "encoding": {
               "x": {"datum": 44.5, "type": "quantitative", "scale": {"domain": [42.955, 46.045], "nice": false, "zero": false},
                 "axis": {"orient": "bottom", "values": [43, 43.25, 43.5, 43.75, 44, 44.25, 44.5, 44.75, 45, 45.25, 45.5, 45.75, 46], "labelPadding": 15, "title": null,
                   "labelExpr": "datum.value % 1 === 0 ? format(datum.value, 'd') : ''",
                   "encode": {"ticks": {"y": {"condition": {"test": "datum.value % 1 === 0", "value": -7}, "value": -4}, "y2": {"condition": {"test": "datum.value % 1 === 0", "value": 7}, "value": 0}}}}},
               "y": {"datum": 1e-6, "type": "quantitative", "scale": {"type": "log", "domain": [1e-10, 1e-4]},
                 "axis": {"orient": "left", "values": [1e-10, 1e-8, 1e-6, 1e-4], "labelPadding": 7, "title": "φ / Mpc³", "titlePadding": 12,
                   "labelExpr": "datum.value > 5e-5 ? '10⁻⁴' : datum.value > 5e-7 ? '10⁻⁶' : datum.value > 5e-9 ? '10⁻⁸' : '10⁻¹⁰'",
                   "encode": {"ticks": {"x": {"value": 7}, "x2": {"value": -7}}}}}}},
            {"data": {"name": "notes"}, "transform": [{"filter": "datum.p === 'BL'"}],
             "mark": {"type": "point", "opacity": 0},
             "encoding": {
               "x": {"datum": 44.5, "type": "quantitative", "scale": {"domain": [42.955, 46.045], "nice": false, "zero": false},
                 "axis": {"orient": "top", "values": [43, 43.25, 43.5, 43.75, 44, 44.25, 44.5, 44.75, 45, 45.25, 45.5, 45.75, 46], "labels": false, "title": null,
                   "encode": {"ticks": {"y": {"condition": {"test": "datum.value % 1 === 0", "value": 7}, "value": 4}, "y2": {"condition": {"test": "datum.value % 1 === 0", "value": -7}, "value": 0}}}}},
               "y": {"datum": 1e-6, "type": "quantitative", "scale": {"type": "log", "domain": [1e-10, 1e-4]},
                 "axis": {"orient": "right", "values": [1e-10, 1e-8, 1e-6, 1e-4], "labels": false, "title": null,
                   "encode": {"ticks": {"x": {"value": -7}, "x2": {"value": 7}}}}}}}
          ],
          "resolve": {"axis": {"x": "independent", "y": "independent"}}
        },
        {
          "width": 513, "height": 328,
          "layer": [
            {"data": {"name": "curves"}, "transform": [{"filter": "datum.p === 'BR'"}],
             "mark": {"type": "area", "fillOpacity": 0.4, "interpolate": "monotone", "clip": true},
             "encoding": {
               "x": {"field": "x", "type": "quantitative", "scale": {"domain": [42.955, 46.045], "nice": false, "zero": false}, "axis": null},
               "y": {"field": "lo", "type": "quantitative", "scale": {"type": "log", "domain": [1e-10, 1e-4]}, "axis": null},
               "y2": {"field": "hi"},
               "color": {"field": "s", "type": "nominal", "scale": {"domain": ["X", "IR"], "range": ["#000000", "#d7602e"]}, "legend": null}}},
            {"data": {"name": "curves"}, "transform": [{"filter": "datum.p === 'BR'"}],
             "mark": {"type": "line", "interpolate": "monotone", "clip": true},
             "encoding": {
               "x": {"field": "x", "type": "quantitative", "scale": {"domain": [42.955, 46.045], "nice": false, "zero": false}, "axis": null},
               "y": {"field": "y", "type": "quantitative", "scale": {"type": "log", "domain": [1e-10, 1e-4]}, "axis": null},
               "color": {"field": "s", "type": "nominal", "scale": {"domain": ["X", "IR"], "range": ["#000000", "#d7602e"]}, "legend": null},
               "strokeWidth": {"field": "s", "type": "nominal", "scale": {"domain": ["X", "IR"], "range": [4, 3]}, "legend": null}}},
            {"data": {"name": "pts"}, "transform": [{"filter": "datum.p === 'BR'"}],
             "mark": {"type": "rule", "strokeWidth": 2.6, "clip": true},
             "encoding": {
               "x": {"field": "xlo", "type": "quantitative", "scale": {"domain": [42.955, 46.045], "nice": false, "zero": false}, "axis": null},
               "x2": {"field": "xhi"},
               "y": {"field": "y", "type": "quantitative", "scale": {"type": "log", "domain": [1e-10, 1e-4]}, "axis": null},
               "color": {"field": "s", "type": "nominal", "scale": {"domain": ["X", "IR"], "range": ["#000000", "#d7602e"]}, "legend": null}}},
            {"data": {"name": "pts"}, "transform": [{"filter": "datum.p === 'BR'"}, {"fold": ["xlo", "xhi"], "as": ["k", "xc"]}],
             "mark": {"type": "tick", "orient": "vertical", "size": 9, "thickness": 2.5, "opacity": 1, "clip": true},
             "encoding": {
               "x": {"field": "xc", "type": "quantitative", "scale": {"domain": [42.955, 46.045], "nice": false, "zero": false}, "axis": null},
               "y": {"field": "y", "type": "quantitative", "scale": {"type": "log", "domain": [1e-10, 1e-4]}, "axis": null},
               "color": {"field": "s", "type": "nominal", "scale": {"domain": ["X", "IR"], "range": ["#000000", "#d7602e"]}, "legend": null}}},
            {"data": {"name": "pts"}, "transform": [{"filter": "datum.p === 'BR' && datum.ul"}],
             "mark": {"type": "rule", "strokeWidth": 2.6, "y2Offset": 12, "clip": true},
             "encoding": {
               "x": {"field": "x", "type": "quantitative", "scale": {"domain": [42.955, 46.045], "nice": false, "zero": false}, "axis": null},
               "y": {"field": "y", "type": "quantitative", "scale": {"type": "log", "domain": [1e-10, 1e-4]}, "axis": null},
               "y2": {"field": "y"},
               "color": {"field": "s", "type": "nominal", "scale": {"domain": ["X", "IR"], "range": ["#000000", "#d7602e"]}, "legend": null}}},
            {"data": {"name": "pts"}, "transform": [{"filter": "datum.p === 'BR' && datum.ul"}],
             "mark": {"type": "point", "shape": "triangle-down", "filled": true, "size": 170, "yOffset": 17, "opacity": 1, "clip": true},
             "encoding": {
               "x": {"field": "x", "type": "quantitative", "scale": {"domain": [42.955, 46.045], "nice": false, "zero": false}, "axis": null},
               "y": {"field": "y", "type": "quantitative", "scale": {"type": "log", "domain": [1e-10, 1e-4]}, "axis": null},
               "color": {"field": "s", "type": "nominal", "scale": {"domain": ["X", "IR"], "range": ["#000000", "#d7602e"]}, "legend": null}}},
            {"data": {"name": "notes"}, "transform": [{"filter": "datum.p === 'BR'"}],
             "mark": {"type": "text", "align": "right", "baseline": "alphabetic", "fontSize": 24, "dx": -20},
             "encoding": {
               "x": {"datum": 46.045, "type": "quantitative", "scale": {"domain": [42.955, 46.045], "nice": false, "zero": false}, "axis": null},
               "y": {"datum": 2.8e-5, "type": "quantitative", "scale": {"type": "log", "domain": [1e-10, 1e-4]}, "axis": null},
               "text": {"field": "z"}}},
            {"data": {"name": "notes"}, "transform": [{"filter": "datum.p === 'BR'"}],
             "mark": {"type": "text", "align": "right", "baseline": "alphabetic", "fontSize": 24, "dx": -47},
             "encoding": {
               "x": {"datum": 44.5, "type": "quantitative", "scale": {"domain": [42.955, 46.045], "nice": false, "zero": false}, "axis": null},
               "y": {"datum": 5.5e-12, "type": "quantitative", "scale": {"type": "log", "domain": [1e-10, 1e-4]}, "axis": null},
               "text": {"value": "log"}}},
            {"data": {"name": "notes"}, "transform": [{"filter": "datum.p === 'BR'"}],
             "mark": {"type": "text", "align": "left", "baseline": "alphabetic", "fontSize": 24, "fontStyle": "italic", "dx": -40},
             "encoding": {
               "x": {"datum": 44.5, "type": "quantitative", "scale": {"domain": [42.955, 46.045], "nice": false, "zero": false}, "axis": null},
               "y": {"datum": 5.5e-12, "type": "quantitative", "scale": {"type": "log", "domain": [1e-10, 1e-4]}, "axis": null},
               "text": {"value": "L"}}},
            {"data": {"name": "notes"}, "transform": [{"filter": "datum.p === 'BR'"}],
             "mark": {"type": "text", "align": "left", "baseline": "alphabetic", "fontSize": 16, "dx": -25, "dy": 4},
             "encoding": {
               "x": {"datum": 44.5, "type": "quantitative", "scale": {"domain": [42.955, 46.045], "nice": false, "zero": false}, "axis": null},
               "y": {"datum": 5.5e-12, "type": "quantitative", "scale": {"type": "log", "domain": [1e-10, 1e-4]}, "axis": null},
               "text": {"value": "X"}}},
            {"data": {"name": "notes"}, "transform": [{"filter": "datum.p === 'BR'"}],
             "mark": {"type": "text", "align": "left", "baseline": "alphabetic", "fontSize": 23, "dx": -4},
             "encoding": {
               "x": {"datum": 44.5, "type": "quantitative", "scale": {"domain": [42.955, 46.045], "nice": false, "zero": false}, "axis": null},
               "y": {"datum": 5.5e-12, "type": "quantitative", "scale": {"type": "log", "domain": [1e-10, 1e-4]}, "axis": null},
               "text": {"value": "[erg s⁻¹]"}}},
            {"data": {"name": "notes"}, "transform": [{"filter": "datum.p === 'BR'"}],
             "mark": {"type": "point", "opacity": 0},
             "encoding": {
               "x": {"datum": 44.5, "type": "quantitative", "scale": {"domain": [42.955, 46.045], "nice": false, "zero": false},
                 "axis": {"orient": "bottom", "values": [43, 43.25, 43.5, 43.75, 44, 44.25, 44.5, 44.75, 45, 45.25, 45.5, 45.75, 46], "labelPadding": 15, "title": null,
                   "labelExpr": "datum.value % 1 === 0 ? format(datum.value, 'd') : ''",
                   "encode": {"ticks": {"y": {"condition": {"test": "datum.value % 1 === 0", "value": -7}, "value": -4}, "y2": {"condition": {"test": "datum.value % 1 === 0", "value": 7}, "value": 0}}}}},
               "y": {"datum": 1e-6, "type": "quantitative", "scale": {"type": "log", "domain": [1e-10, 1e-4]},
                 "axis": {"orient": "left", "values": [1e-10, 1e-8, 1e-6, 1e-4], "labels": false, "title": null,
                   "encode": {"ticks": {"x": {"value": 7}, "x2": {"value": -7}}}}}}},
            {"data": {"name": "notes"}, "transform": [{"filter": "datum.p === 'BR'"}],
             "mark": {"type": "point", "opacity": 0},
             "encoding": {
               "x": {"datum": 44.5, "type": "quantitative", "scale": {"domain": [42.955, 46.045], "nice": false, "zero": false},
                 "axis": {"orient": "top", "values": [43, 43.25, 43.5, 43.75, 44, 44.25, 44.5, 44.75, 45, 45.25, 45.5, 45.75, 46], "labels": false, "title": null,
                   "encode": {"ticks": {"y": {"condition": {"test": "datum.value % 1 === 0", "value": 7}, "value": 4}, "y2": {"condition": {"test": "datum.value % 1 === 0", "value": -7}, "value": 0}}}}},
               "y": {"datum": 1e-6, "type": "quantitative", "scale": {"type": "log", "domain": [1e-10, 1e-4]},
                 "axis": {"orient": "right", "values": [1e-10, 1e-8, 1e-6, 1e-4], "labels": false, "title": null,
                   "encode": {"ticks": {"x": {"value": -7}, "x2": {"value": 7}}}}}}}
          ],
          "resolve": {"axis": {"x": "independent", "y": "independent"}}
        }
      ]
    }
  ]
}
